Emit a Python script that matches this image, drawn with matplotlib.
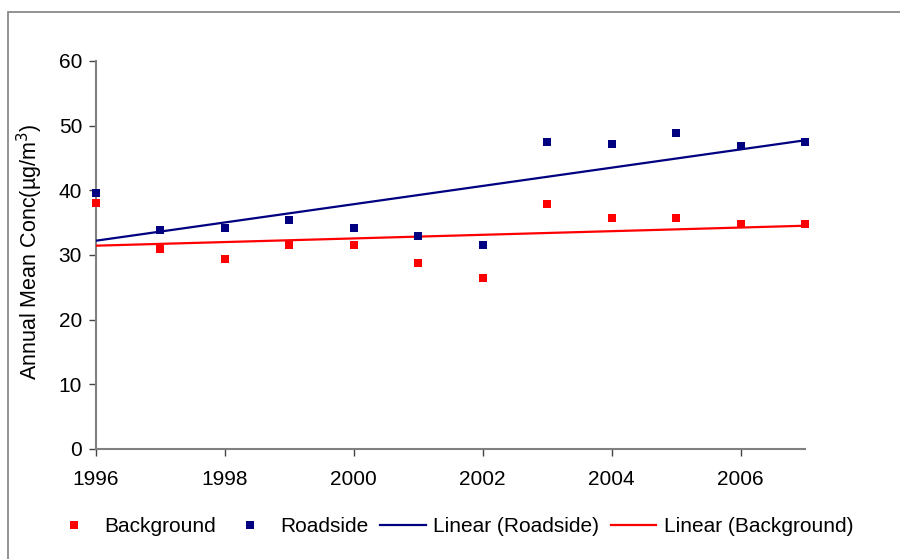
import matplotlib
matplotlib.use("Agg")
import matplotlib.pyplot as plt
from matplotlib.patches import Rectangle
import numpy as np

plt.rcParams["font.family"] = ["Liberation Sans", "DejaVu Sans"]

years = [1996, 1997, 1998, 1999, 2000, 2001, 2002, 2003, 2004, 2005, 2006, 2007]
background = [38.0, 31.0, 29.4, 31.6, 31.6, 28.8, 26.5, 37.9, 35.7, 35.7, 34.8, 34.8]
roadside = [39.6, 33.9, 34.2, 35.4, 34.2, 32.9, 31.6, 47.5, 47.2, 48.8, 46.9, 47.5]
xticks = [1996, 1998, 2000, 2002, 2004, 2006]
yticks = [0, 10, 20, 30, 40, 50, 60]

RED = "#ff0000"
NAVY = "#000080"
GREY = "#808080"

fig = plt.figure(figsize=(9, 5.59), dpi=100)
ax = fig.add_axes([96 / 900, 1 - 449 / 559, 709 / 900, 388 / 559])

# outer chart-area border (runs off the right and bottom edges)
fig.patches.append(Rectangle((8 / 900, -0.2), 1.2, 1 - 12 / 559 + 0.2,
                             transform=fig.transFigure, fill=False,
                             edgecolor=GREY, linewidth=1.2))

x = np.array(years, dtype=float)
h_bg, = ax.plot(years, background, "s", color=RED, ms=5.5, mew=0, clip_on=False, zorder=4)
h_rs, = ax.plot(years, roadside, "s", color=NAVY, ms=5.5, mew=0, clip_on=False, zorder=4)

fit_rs = np.polyfit(x, roadside, 1)
fit_bg = np.polyfit(x, background, 1)
h_lrs, = ax.plot(x, np.polyval(fit_rs, x), color=NAVY, lw=1.6, zorder=3)
h_lbg, = ax.plot(x, np.polyval(fit_bg, x), color=RED, lw=1.6, zorder=3)

ax.set_xlim(1996, 2007)
ax.set_ylim(0, 60)
ax.set_xticks(xticks)
ax.set_yticks(yticks)
for s in ["top", "right"]:
    ax.spines[s].set_visible(False)
for s in ["left", "bottom"]:
    ax.spines[s].set_color(GREY)
    ax.spines[s].set_linewidth(1.5)
ax.tick_params(axis="both", direction="out", length=5, width=1, color="#444444",
               labelsize=15, labelcolor="black")
ax.tick_params(axis="y", pad=5)
ax.tick_params(axis="x", pad=10)

fig.text(30 / 900, 1 - 252 / 559, "Annual Mean Conc(µg/m$^3$)", rotation=90,
         ha="center", va="center", fontsize=15.5)

fig.legend([h_bg, h_rs, h_lrs, h_lbg],
           ["Background", "Roadside", "Linear (Roadside)", "Linear (Background)"],
           loc="center", bbox_to_anchor=(452 / 900, 1 - 527 / 559), ncol=4,
           frameon=False, fontsize=15, handlelength=2.2, handletextpad=0.35,
           columnspacing=0.55, borderpad=0)

fig.savefig("out.png", dpi=100)
